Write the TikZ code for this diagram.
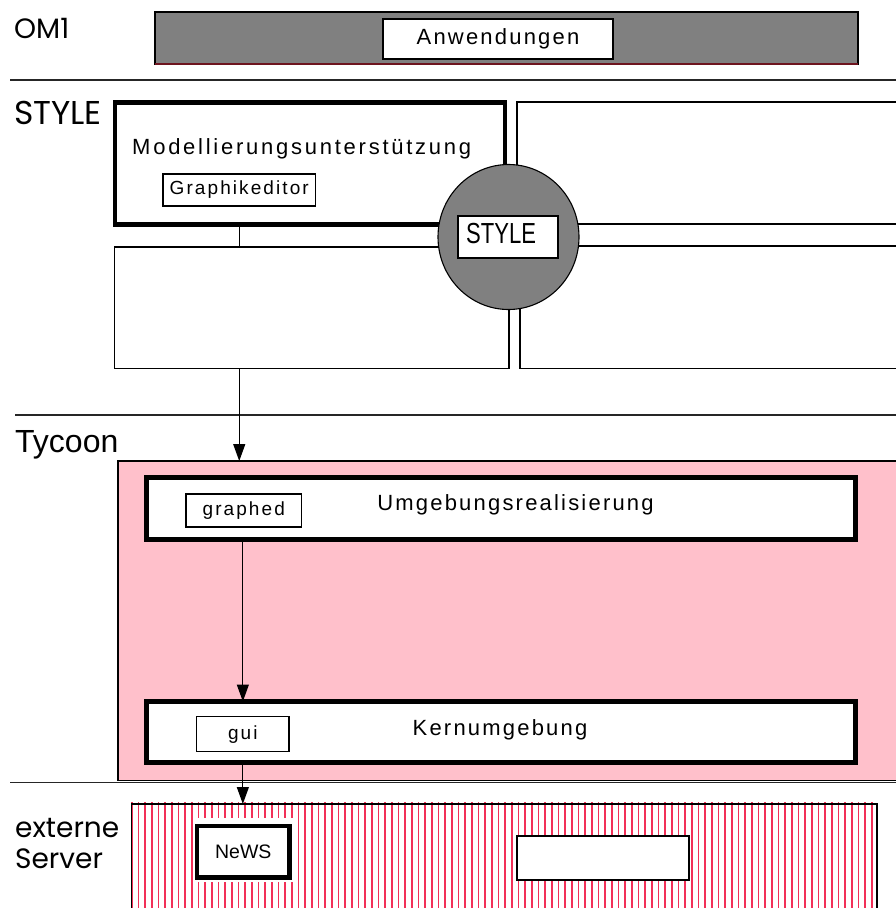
\documentclass[tikz,border=0pt]{standalone}
\usepackage{fontspec}
\usepackage{graphicx}
\setmainfont{Liberation Sans}
\newfontfamily\labelfont{Poppins}
\newfontfamily\trackfont[LetterSpace=10]{Liberation Sans}
\newfontfamily\widetrackfont[LetterSpace=12.5]{Liberation Sans}
\newfontfamily\tagfont[LetterSpace=11]{Liberation Sans}
\usetikzlibrary{arrows.meta,shapes.geometric}
\definecolor{midgray}{RGB}{128,128,128}
\definecolor{rosefill}{RGB}{255,192,203}
\definecolor{stripered}{RGB}{242,48,88}
\definecolor{edgered}{RGB}{110,20,30}

\tikzset{
  frame/.style={draw=black, line width=1.1pt, inner sep=0pt, outer sep=0pt, fill=white},
  heavyframe/.style={frame, line width=4.5pt},
  tag/.style={font=\tagfont\fontsize{19}{21}\selectfont},
  title/.style={font=\trackfont\fontsize{22}{25}\selectfont, inner sep=0pt},
  layerlabel/.style={font=\labelfont\fontsize{28}{32}\selectfont, inner sep=0pt, anchor=base west},
  rule/.style={line width=1.2pt, draw=black!85},
  link/.style={line width=1.1pt},
  flow/.style={line width=1.2pt, -{Triangle[length=17pt,width=12pt]}},
  stripe/.style={draw=stripered, line width=1.6pt},
}

\begin{document}
\begin{tikzpicture}[x=1pt, y=-1pt]
\useasboundingbox (0,0) rectangle (896,908);
\clip (0,0) rectangle (896,908);

% layer rules
\coordinate (r1a) at (10,80);   \coordinate (r1b) at (900,80);
\coordinate (r2a) at (15,415);  \coordinate (r2b) at (900,415);
\coordinate (r3a) at (10,782.5); \coordinate (r3b) at (900,782.5);
\draw[rule] (r1a) -- (r1b);
\draw[rule] (r2a) -- (r2b);
\draw[rule] (r3a) -- (r3b);

% OM1
\node[layerlabel] (om1) at (14,38) {OM1};
\node[frame, fill=midgray, minimum width=703, minimum height=52] (apps) at (506.5,38) {};
\draw[edgered, line width=1.1pt] (apps.south west) -- (apps.south east);
\node[frame, title, minimum width=230, minimum height=40] (anw) at (498,39) {Anwendungen};

% STYLE
\node[layerlabel, font=\labelfont\fontsize{33}{36}\selectfont] (stylelabel) at (14,124) {STYLE};
\node[frame, minimum width=388, minimum height=122] (tr) at (711,163) {};
\node[frame, minimum width=394.5, minimum height=121.5] (bl) at (311.75,307.75) {};
\node[frame, minimum width=385, minimum height=122.5] (br) at (712.5,307.25) {};
\node[heavyframe, minimum width=390, minimum height=122] (model) at (310,163.5) {};
\node[title, font=\widetrackfont\fontsize{22}{25}\selectfont, anchor=west] (modeltext) at (132,149)
      {Modellierungsunterstützung};
\node[frame, tag, minimum width=152.5, minimum height=32] (ged) at (239.25,190) {Graphikeditor};
\node[ellipse, draw=black, line width=1.1pt, fill=midgray, inner sep=0pt, outer sep=0pt,
      minimum width=141, minimum height=145] (hub) at (508.5,237) {};
\node[frame, minimum width=100, minimum height=42] (hubtag) at (508,237) {};
\node[font=\fontsize{29}{30}\selectfont, inner sep=0pt, anchor=west] (hubtext) at (466,233.5)
      {\scalebox{0.76}[1]{STYLE}};
\draw[link] (ged |- model.south) -- (ged |- bl.north);

% Tycoon
\node[font=\fontsize{32}{35}\selectfont, inner sep=0pt, anchor=base west] (tyc) at (15,452) {Tycoon};
\node[frame, fill=rosefill, minimum width=787, minimum height=319.5] (tycoon) at (511.5,620.75) {};
\node[heavyframe, line width=5pt, minimum width=709, minimum height=62] (umg) at (501,508.5) {};
\node[frame, tag, minimum width=115.5, minimum height=33] (graphed) at (243.75,510.5) {graphed};
\node[title] (umgtext) at (515.5,505) {Umgebungsrealisierung};
\node[heavyframe, line width=5pt, minimum width=709, minimum height=60.5] (kern) at (501,731.75) {};
\node[frame, tag, minimum width=92.3, minimum height=35] (gui) at (242.85,734.2) {gui};
\node[title] (kerntext) at (500,730) {Kernumgebung};

% externe Server
\node[layerlabel] (ext1) at (15,837) {externe};
\node[layerlabel] (ext2) at (15,868) {Server};
\foreach \i in {0,...,111} {
  \draw[stripe] ({131.7+\i*6.6667},802) -- ++(0,110);
}
\node[draw=black, line width=1.1pt, inner sep=0pt, outer sep=0pt,
      minimum width=745.3, minimum height=120] (servers) at (504.35,864) {};
\node[fill=white, inner sep=0pt, minimum width=103.7, minimum height=64] (newspad) at (244.85,850) {};
\node[heavyframe, minimum width=92.5, minimum height=51.5, font=\fontsize{19.5}{21}\selectfont]
      (news) at (243.25,851.75) {NeWS};
\node[frame, minimum width=172, minimum height=44] (ext) at (603,858) {};

% connectors
\draw[flow] (ged |- bl.south) -- (ged |- tycoon.north);
\draw[flow] (gui |- umg.south) -- (gui |- kern.north);
\draw[flow] (gui |- kern.south) -- (gui |- servers.north);
\end{tikzpicture}
\end{document}
